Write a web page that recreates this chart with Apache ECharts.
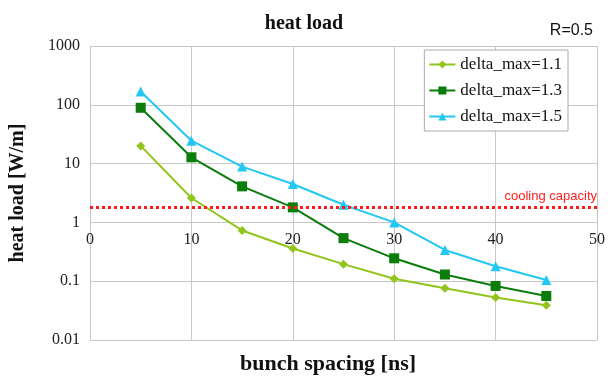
<!DOCTYPE html>
<html>
<head>
<meta charset="utf-8">
<script src="https://cdn.jsdelivr.net/npm/echarts@6/dist/echarts.min.js"></script>
<style>html,body{margin:0;padding:0;background:#fff}#main{width:608px;height:381px}</style>
</head>
<body>
<div id="main"></div>
<script>
  var spacing = [5, 10, 15, 20, 25, 30, 35, 40, 45];
  var dm11 = [20, 2.6, 0.73, 0.36, 0.195, 0.11, 0.076, 0.053, 0.039];
  var dm13 = [89, 12.8, 4.1, 1.8, 0.54, 0.245, 0.13, 0.083, 0.056];
  var dm15 = [168, 24.5, 8.9, 4.5, 2.0, 1.0, 0.34, 0.18, 0.105];
  var coolingCapacity = 1.8;
  var names = ['delta_max=1.1', 'delta_max=1.3', 'delta_max=1.5'];

  function pairs(vals) {
    return spacing.map(function (x, i) { return [x, vals[i]]; });
  }

  var myChart = echarts.init(document.getElementById('main'));
  var serif = '"Liberation Serif", "DejaVu Serif", serif';
  var gridTop = 46, gridBottom = 41;
  var gridH = 381 - gridTop - gridBottom;

  var option = {
    animation: false,
    color: ['#92c51b', '#0a7d0a', '#22c8f2'],
    title: [
      { text: 'heat load', left: 'center', top: 9,
        textStyle: { fontFamily: serif, fontSize: 20, fontWeight: 'bold', color: '#111' } },
      { text: 'R=0.5', right: 10, top: 18,
        textStyle: { fontFamily: 'Arial, "Liberation Sans", sans-serif', fontSize: 16, fontWeight: 'normal', color: '#111' } },
      { text: 'bunch spacing [ns]', left: 235, top: 348,
        textStyle: { fontFamily: serif, fontSize: 22, fontWeight: 'bold', color: '#111' } }
    ],
    legend: {
      orient: 'vertical',
      right: 40, top: 50,
      backgroundColor: '#fff',
      borderColor: '#aaa', borderWidth: 1,
      padding: [6, 6, 6, 4],
      itemGap: 9,
      itemWidth: 26, itemHeight: 10,
      textStyle: { fontFamily: serif, fontSize: 17, color: '#111' },
      data: names
    },
    grid: { left: 88, right: 9, top: gridTop, bottom: gridBottom },
    xAxis: {
      type: 'value', min: 0, max: 50, interval: 10,
      offset: -gridH * 2 / 5,
      axisLine: { show: false },
      axisTick: { show: false },
      axisLabel: { margin: 9, fontFamily: serif, fontSize: 16, color: '#222' },
      splitLine: { show: true, lineStyle: { color: '#c8c8c8', width: 1 } }
    },
    yAxis: {
      type: 'log', logBase: 10, min: 0.01, max: 1000,
      name: 'heat load [W/m]',
      nameLocation: 'middle', nameGap: 62,
      nameTextStyle: { fontFamily: serif, fontSize: 20, fontWeight: 'bold', color: '#111' },
      axisLine: { show: true, lineStyle: { color: '#c8c8c8' } },
      axisTick: { show: false },
      axisLabel: {
        margin: 10, fontFamily: serif, fontSize: 16, color: '#222',
        formatter: function (v) { return String(Number(v.toPrecision(3))); }
      },
      splitLine: { show: true, lineStyle: { color: '#c8c8c8', width: 1 } }
    },
    series: [
      {
        name: names[0], type: 'line', data: pairs(dm11),
        symbol: 'diamond', symbolSize: 9,
        lineStyle: { width: 2 },
        markLine: {
          silent: true, symbol: 'none',
          lineStyle: { color: '#ff1a1a', type: 'dotted', width: 3 },
          label: { show: true, position: 'insideEndTop', distance: [0, 4], formatter: 'cooling capacity',
            color: '#ff2020', fontFamily: 'Arial, "Liberation Sans", sans-serif', fontSize: 13 },
          data: [{ yAxis: coolingCapacity }]
        }
      },
      {
        name: names[1], type: 'line', data: pairs(dm13),
        symbol: 'rect', symbolSize: 10,
        lineStyle: { width: 2 }
      },
      {
        name: names[2], type: 'line', data: pairs(dm15),
        symbol: 'triangle', symbolSize: 10,
        lineStyle: { width: 2 }
      }
    ]
  };

  myChart.setOption(option);
</script>
</body>
</html>
